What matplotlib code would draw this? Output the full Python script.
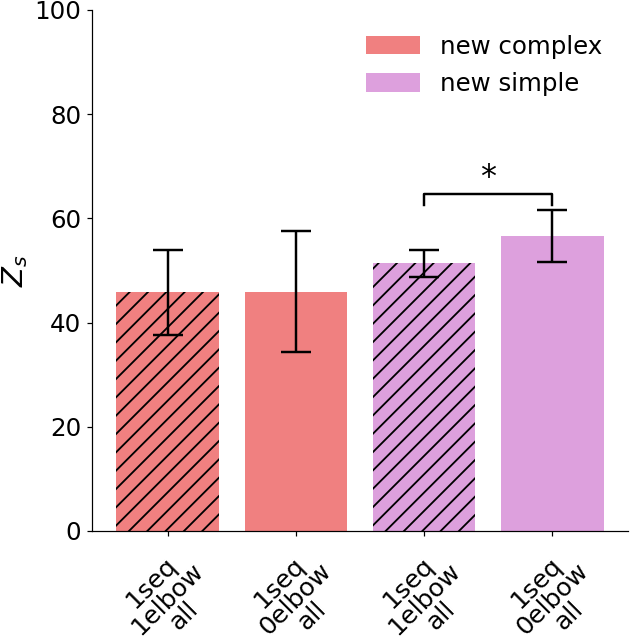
import matplotlib
matplotlib.use("Agg")
import matplotlib.pyplot as plt
from matplotlib.patches import Patch

#data
labels = ["1seq\n1elbow\nall", "1seq\n0elbow\nall", "1seq\n1elbow\nall", "1seq\n0elbow\nall"]
means = [45.8, 45.9, 51.4, 56.6]
errs = [8.1, 11.6, 2.6, 5.05]
hatches = ["//", "", "//", ""]
colors = ["lightcoral", "lightcoral", "plum", "plum"]
legend_names = ["new complex", "new simple"]
legend_colors = ["lightcoral", "plum"]
sig_pair = (2, 3)
sig_y = 62.5
sig_h = 2.1

plt.rcParams["font.size"] = 16
plt.rcParams["hatch.color"] = "black"
plt.rcParams["hatch.linewidth"] = 1.2

fig, ax = plt.subplots(figsize=(630 / 110, 644 / 110), dpi=110)
fig.subplots_adjust(left=0.146, right=0.997, bottom=0.1755, top=0.9845)

x = list(range(len(means)))
bars = ax.bar(x, means, width=0.8, color=colors, yerr=errs, capsize=10,
              error_kw=dict(elinewidth=1.6, capthick=1.6, ecolor="black"))
for b, h in zip(bars, hatches):
    b.set_hatch(h)

#significance bracket
x1, x2 = sig_pair
ax.plot([x1, x1, x2, x2], [sig_y, sig_y + sig_h, sig_y + sig_h, sig_y], color="black", lw=1.6)
ax.text((x1 + x2) / 2, sig_y + sig_h + 0.3, "*", ha="center", va="bottom", fontsize=21)

ax.set_ylim(0, 100)
ax.set_ylabel("$Z_s$", fontsize=19, labelpad=3)
ax.set_xticks(x)
ax.set_xticklabels(labels, rotation=45, ha="center", fontsize=16.5, linespacing=0.95)
ax.tick_params(axis="x", pad=4)
ax.spines["top"].set_visible(False)
ax.spines["right"].set_visible(False)

handles = [Patch(facecolor=c) for c in legend_colors]
ax.legend(handles, legend_names, loc="upper right", frameon=False,
          handlelength=2.2, handleheight=0.8, labelspacing=0.55,
          bbox_to_anchor=(0.992, 0.995))

plt.savefig("out.png", dpi=110)
plt.close()
